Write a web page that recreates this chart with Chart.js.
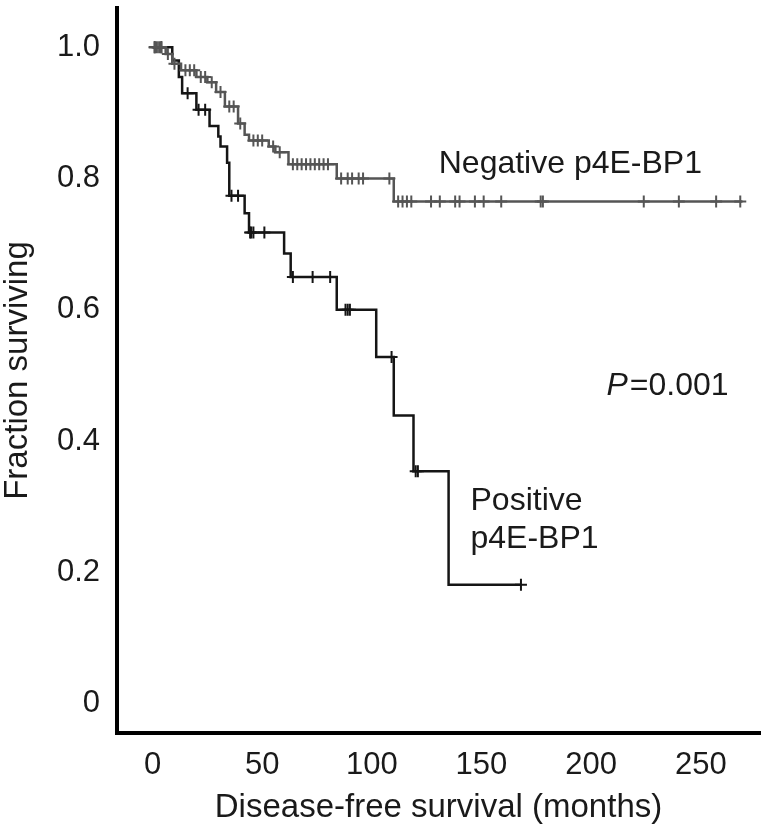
<!DOCTYPE html>
<html>
<head>
<meta charset="utf-8">
<script src="https://cdn.jsdelivr.net/npm/chart.js@4.4.1/dist/chart.umd.min.js"></script>
<style>
  html, body { margin: 0; padding: 0; background: #fff; }
  #chart { display: block; }
</style>
</head>
<body>
<canvas id="chart" width="768" height="826"></canvas>
<script>
// Kaplan-Meier curves, disease-free survival by p4E-BP1 status
const xTicks = [0, 50, 100, 150, 200, 250];
const yTicks = [0, 0.2, 0.4, 0.6, 0.8, 1.0];
const yTickLabels = ['0', '0.2', '0.4', '0.6', '0.8', '1.0'];

// negative p4E-BP1 (grey): month of each drop and the fraction after it
const negTimes = [0, 6, 9, 13, 20, 25, 29, 33, 39, 42, 44, 53, 56, 62, 84, 110, 269];
const negSurv = [1.0, 0.99, 0.975, 0.965, 0.955, 0.947, 0.932, 0.91, 0.884, 0.867, 0.858, 0.849, 0.84, 0.822, 0.80, 0.765, 0.765];
const negCensored = [1, 2, 3, 4, 7, 10, 15, 17, 19, 22, 24, 27, 31, 35, 37, 40, 46, 48, 50, 55, 58,
  64, 66, 68, 70, 72, 74, 76, 78, 80, 86, 89, 91, 94, 96, 108,
  112, 114, 116, 118, 127, 131, 138, 140, 147, 151, 159, 177, 178, 224, 240, 257, 268];

// positive p4E-BP1 (black)
const posTimes = [0, 9, 12, 13.5, 20, 26, 30, 31, 34, 35, 42, 44, 60, 63, 84, 102, 110, 119, 135, 168];
const posSurv = [1.0, 0.98, 0.955, 0.93, 0.905, 0.88, 0.864, 0.849, 0.824, 0.774, 0.747, 0.718, 0.686, 0.65, 0.60, 0.528, 0.439, 0.354, 0.181, 0.181];
const posCensored = [1, 4, 16, 21, 24, 36, 39, 44.5, 45, 46, 51, 64, 73, 81, 88, 89, 90, 109, 120, 121, 168];

function survivalAt(times, surv, t) {
  let s = surv[0];
  for (let i = 0; i < times.length; i++) {
    if (times[i] <= t) s = surv[i];
  }
  return s;
}
function stepPoints(times, surv) {
  return times.map((t, i) => ({ x: t, y: surv[i] }));
}
function censorPoints(times, surv, cens) {
  return cens.map(t => ({ x: t, y: survivalAt(times, surv, t) }));
}

const FONT = '"Liberation Sans", Arial, Helvetica, sans-serif';
const GREY = '#555555';
const BLACK = '#151515';

const labelsPlugin = {
  id: 'curveLabels',
  afterDatasetsDraw(chart) {
    const { ctx, scales: { x, y } } = chart;
    ctx.save();
    ctx.fillStyle = '#1a1a1a';
    ctx.textBaseline = 'middle';
    ctx.textAlign = 'left';
    ctx.font = '32px ' + FONT;
    ctx.fillText('Negative p4E-BP1', x.getPixelForValue(130.5), y.getPixelForValue(0.822));
    ctx.fillText('Positive', x.getPixelForValue(145), y.getPixelForValue(0.309));
    ctx.fillText('p4E-BP1', x.getPixelForValue(145), y.getPixelForValue(0.25));
    const px = x.getPixelForValue(207);
    const py = y.getPixelForValue(0.484);
    ctx.font = 'italic 32px ' + FONT;
    ctx.fillText('P', px, py);
    const w = ctx.measureText('P').width;
    ctx.font = '32px ' + FONT;
    ctx.fillText('=0.001', px + w + 2, py);
    ctx.restore();
  }
};

new Chart(document.getElementById('chart'), {
  type: 'line',
  data: {
    datasets: [
      {
        label: 'Negative p4E-BP1',
        data: stepPoints(negTimes, negSurv),
        stepped: 'before',
        borderColor: GREY,
        borderWidth: 2.5,
        pointRadius: 0,
        fill: false
      },
      {
        label: 'Negative censored',
        data: censorPoints(negTimes, negSurv, negCensored),
        showLine: false,
        pointStyle: 'cross',
        pointRadius: 6,
        pointBorderWidth: 2,
        pointBorderColor: GREY
      },
      {
        label: 'Positive p4E-BP1',
        data: stepPoints(posTimes, posSurv),
        stepped: 'before',
        borderColor: BLACK,
        borderWidth: 2.5,
        pointRadius: 0,
        fill: false
      },
      {
        label: 'Positive censored',
        data: censorPoints(posTimes, posSurv, posCensored),
        showLine: false,
        pointStyle: 'cross',
        pointRadius: 6,
        pointBorderWidth: 2,
        pointBorderColor: BLACK
      }
    ]
  },
  options: {
    responsive: false,
    animation: false,
    layout: { padding: { top: -8, left: 0, right: 0, bottom: 0 } },
    plugins: {
      legend: { display: false },
      tooltip: { enabled: false }
    },
    scales: {
      x: {
        type: 'linear',
        min: -16.2,
        max: 277,
        afterFit: s => { s.height = 93; s.paddingLeft = 0; s.paddingRight = 0; },
        afterBuildTicks: s => { s.ticks = xTicks.map(v => ({ value: v })); },
        grid: { display: false, drawTicks: false },
        border: { display: true, color: '#000', width: 4 },
        ticks: {
          padding: 14,
          color: '#1a1a1a',
          font: { family: FONT, size: 31 },
          maxRotation: 0,
          callback: v => String(v)
        },
        title: {
          display: true,
          text: 'Disease-free survival (months)',
          color: '#1a1a1a',
          font: { family: FONT, size: 33, lineHeight: 1.1 },
          padding: { top: 0, bottom: 0 }
        }
      },
      y: {
        type: 'linear',
        min: -0.045,
        max: 1.06,
        afterFit: s => { s.width = 117; s.paddingTop = 0; s.paddingBottom = 0; },
        afterBuildTicks: s => { s.ticks = yTicks.map(v => ({ value: v })); },
        grid: { display: false, drawTicks: false },
        border: { display: true, color: '#000', width: 4 },
        ticks: {
          padding: 17,
          color: '#1a1a1a',
          font: { family: FONT, size: 31 },
          callback: v => yTickLabels[yTicks.indexOf(v)]
        },
        title: {
          display: true,
          text: 'Fraction surviving',
          color: '#1a1a1a',
          font: { family: FONT, size: 33, lineHeight: 1.1 },
          padding: { top: 0, bottom: 0 }
        }
      }
    }
  },
  plugins: [labelsPlugin]
});
</script>
</body>
</html>
